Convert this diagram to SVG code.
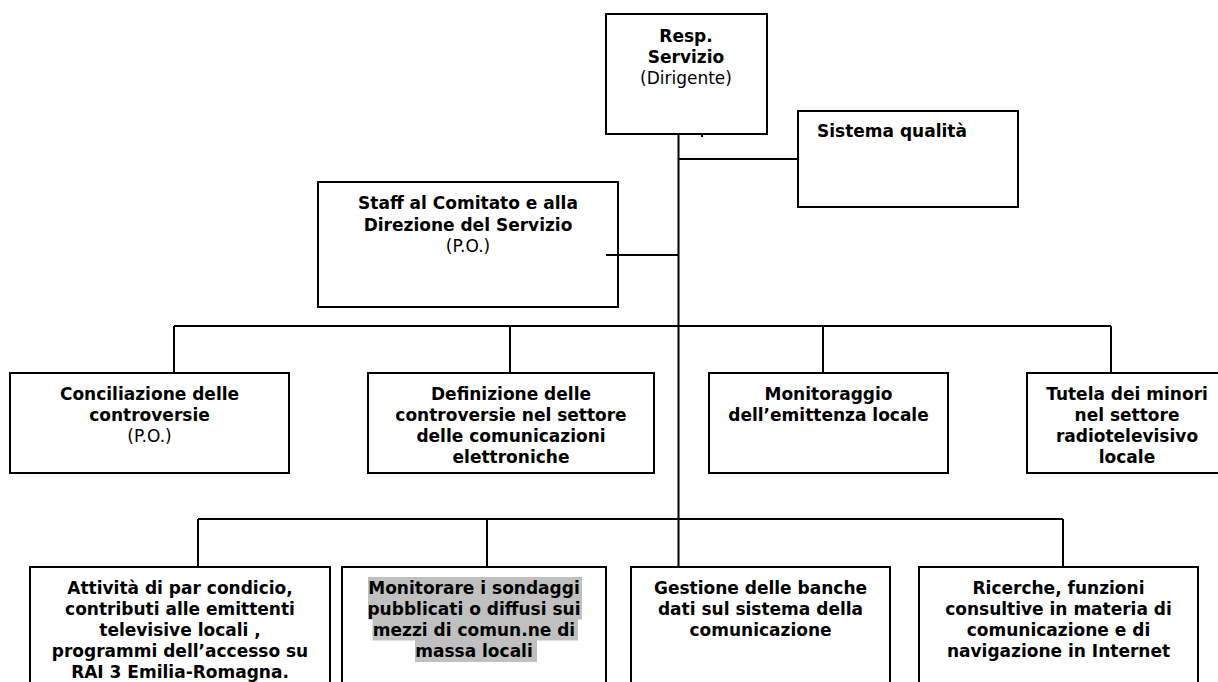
<svg xmlns="http://www.w3.org/2000/svg" width="1218" height="682" viewBox="0 0 1218 682">
  <style>
    .box { fill: #ffffff; stroke: #000000; stroke-width: 2; }
    .link { fill: none; stroke: #000000; stroke-width: 2; }
    text { font-family: "DejaVu Sans", Verdana, sans-serif; font-size: 17px; fill: #000000; }
    .c { text-anchor: middle; }
    .b { font-weight: bold; }
    .hl { fill: #c0c0c0; }
  </style>

  <g id="resp-servizio">
    <rect class="box" x="606" y="14" width="161" height="120"/>
    <text class="c b" x="686" y="42">Resp.</text>
    <text class="c b" x="686" y="63">Servizio</text>
    <text class="c" x="686" y="84">(Dirigente)</text>
  </g>

  <g id="sistema-qualita">
    <rect class="box" x="798" y="111" width="220" height="96"/>
    <text class="b" x="817" y="137">Sistema qualità</text>
  </g>

  <g id="staff">
    <rect class="box" x="318" y="182" width="300" height="125"/>
    <text class="c b" x="468" y="209">Staff al Comitato e alla</text>
    <text class="c b" x="468" y="230.5">Direzione del Servizio</text>
    <text class="c" x="468" y="252">(P.O.)</text>
  </g>

  <g id="conciliazione">
    <rect class="box" x="10" y="373" width="279" height="100"/>
    <text class="c b" x="149.5" y="400">Conciliazione delle</text>
    <text class="c b" x="149.5" y="421">controversie</text>
    <text class="c" x="149.5" y="442">(P.O.)</text>
  </g>

  <g id="definizione">
    <rect class="box" x="368" y="373" width="286" height="100"/>
    <text class="c b" x="511" y="400">Definizione delle</text>
    <text class="c b" x="511" y="421">controversie nel settore</text>
    <text class="c b" x="511" y="442">delle comunicazioni</text>
    <text class="c b" x="511" y="463">elettroniche</text>
  </g>

  <g id="monitoraggio">
    <rect class="box" x="709" y="373" width="239" height="100"/>
    <text class="c b" x="828.5" y="400">Monitoraggio</text>
    <text class="c b" x="828.5" y="421">dell’emittenza locale</text>
  </g>

  <g id="tutela-minori">
    <rect class="box" x="1027" y="373" width="200" height="100"/>
    <text class="c b" x="1127" y="400">Tutela dei minori</text>
    <text class="c b" x="1127" y="421">nel settore</text>
    <text class="c b" x="1127" y="442">radiotelevisivo</text>
    <text class="c b" x="1127" y="463">locale</text>
  </g>

  <g id="par-condicio">
    <rect class="box" x="30" y="567" width="300" height="130"/>
    <text class="c b" x="180" y="594">Attività di par condicio,</text>
    <text class="c b" x="180" y="615">contributi alle emittenti</text>
    <text class="c b" x="180" y="636">televisive locali ,</text>
    <text class="c b" x="180" y="657">programmi dell’accesso su</text>
    <text class="c b" x="180" y="678">RAI 3 Emilia-Romagna.</text>
  </g>

  <g id="sondaggi">
    <rect class="box" x="342" y="567" width="264" height="130"/>
    <rect class="hl" x="368" y="577" width="214" height="21.5"/>
    <rect class="hl" x="368" y="598" width="214" height="21.5"/>
    <rect class="hl" x="372.5" y="619" width="205.5" height="21.5"/>
    <rect class="hl" x="415" y="640" width="122" height="22"/>
    <text class="c b" x="474" y="594">Monitorare i sondaggi</text>
    <text class="c b" x="474" y="615">pubblicati o diffusi sui</text>
    <text class="c b" x="474" y="636">mezzi di comun.ne di</text>
    <text class="c b" x="474" y="657">massa locali</text>
  </g>

  <g id="banche-dati">
    <rect class="box" x="631" y="567" width="259" height="130"/>
    <text class="c b" x="760.5" y="594">Gestione delle banche</text>
    <text class="c b" x="760.5" y="615">dati sul sistema della</text>
    <text class="c b" x="760.5" y="636">comunicazione</text>
  </g>

  <g id="ricerche">
    <rect class="box" x="919" y="567" width="279" height="130"/>
    <text class="c b" x="1058.5" y="594">Ricerche, funzioni</text>
    <text class="c b" x="1058.5" y="615">consultive in materia di</text>
    <text class="c b" x="1058.5" y="636">comunicazione e di</text>
    <text class="c b" x="1058.5" y="657">navigazione in Internet</text>
  </g>

  <!-- connectors, drawn last so the staff link shows where it enters its box -->
  <g id="connectors">
    <path class="link" d="M678.5 134 V567"/>
    <path class="link" d="M678.5 159 H798"/>
    <path class="link" d="M606 255 H678.5"/>
    <path class="link" d="M702 134 V137"/>
    <!-- middle level bus -->
    <path class="link" d="M174 326 H1111"/>
    <path class="link" d="M174 326 V373"/>
    <path class="link" d="M510 326 V373"/>
    <path class="link" d="M823 326 V373"/>
    <path class="link" d="M1111 326 V373"/>
    <!-- lower level bus -->
    <path class="link" d="M198 519 H1063"/>
    <path class="link" d="M198 519 V567"/>
    <path class="link" d="M487 519 V567"/>
    <path class="link" d="M1063 519 V567"/>
  </g>
</svg>
